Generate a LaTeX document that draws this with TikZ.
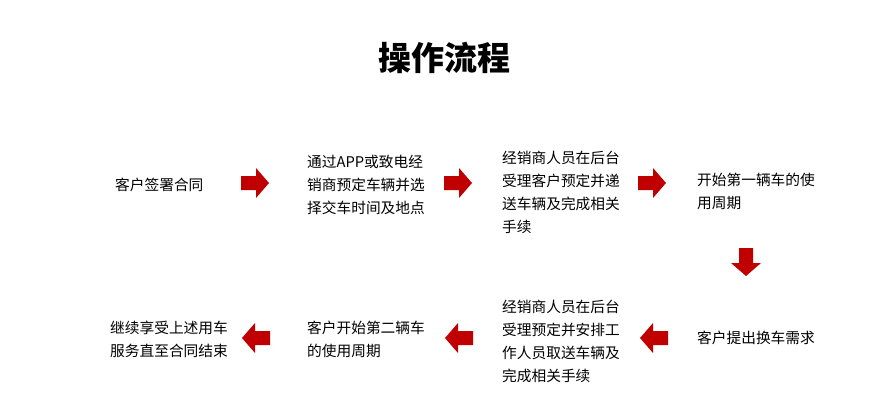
\documentclass[tikz,border=0pt]{standalone}
\usepackage{fontspec}
\setmainfont{Noto Sans CJK SC}
\begin{document}
\begin{tikzpicture}[x=1pt,y=-1pt,
  txt/.style={anchor=west,align=left,font=\fontsize{14.7}{23}\selectfont,inner sep=0pt},
  blockarrow/.pic={\fill[arrowred] (-14,-7)--(1,-7)--(1,-15)--(14,0)--(1,15)--(1,7)--(-14,7)--cycle;}]
\definecolor{arrowred}{HTML}{C00000}
\useasboundingbox (0,0) rectangle (888,400);
\node[font=\fontsize{33}{36}\selectfont\bfseries] (title) at (444,58) {操作流程};
\node[txt] (a) at (115,185) {客户签署合同};
\node[txt] (b) at (307,185) {通过APP或致电经\\销商预定车辆并选\\择交车时间及地点};
\node[txt] (c) at (502,192) {经销商人员在后台\\受理客户预定并递\\送车辆及完成相关\\手续};
\node[txt] (d) at (697,191) {开始第一辆车的使\\用周期};
\node[txt] (e) at (697,338) {客户提出换车需求};
\node[txt] (f) at (502,341) {经销商人员在后台\\受理预定并安排工\\作人员取送车辆及\\完成相关手续};
\node[txt] (g) at (307,339) {客户开始第二辆车\\的使用周期};
\node[txt] (h) at (110,339) {继续享受上述用车\\服务直至合同结束};
\pic at (255,183) {blockarrow};
\pic at (458,183) {blockarrow};
\pic at (652,183) {blockarrow};
\pic[rotate=-90] at (746,262) {blockarrow};
\pic[rotate=180] at (654,338) {blockarrow};
\pic[rotate=180] at (459,338) {blockarrow};
\pic[rotate=180] at (256,338) {blockarrow};
\end{tikzpicture}
\end{document}
